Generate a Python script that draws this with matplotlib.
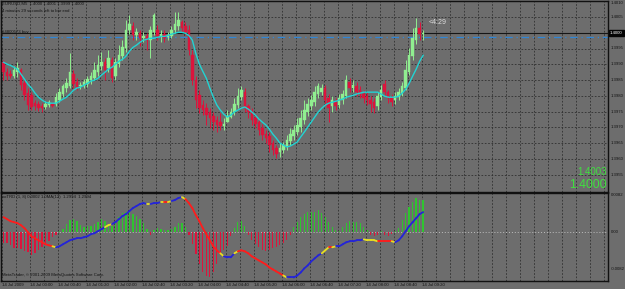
import matplotlib
matplotlib.use('Agg')
import matplotlib.pyplot as plt
from matplotlib.collections import LineCollection
import numpy as np

# ---------------- data (EURUSD M5, 14 Jul 2009) ----------------
opens = [1.39907, 1.39875, 1.39869, 1.39863, 1.39875, 1.39882, 1.39840, 1.39809, 1.39802, 1.39777,
         1.39774, 1.39768, 1.39765, 1.39771, 1.39774, 1.39774, 1.39787, 1.39806, 1.39825, 1.39831,
         1.39869, 1.39844, 1.39831, 1.39831, 1.39837, 1.39850, 1.39856, 1.39875, 1.39894, 1.39907,
         1.39888, 1.39913, 1.39863, 1.39901, 1.39926, 1.39951, 1.40008, 1.40021, 1.39992, 1.39999,
         1.39983, 1.39989, 1.39977, 1.40002, 1.40008, 1.39989, 1.39996, 1.39986, 1.39989, 1.40008,
         1.40021, 1.40034, 1.40021, 1.40008, 1.39929, 1.39850, 1.39802, 1.39771, 1.39761, 1.39749,
         1.39736, 1.39723, 1.39717, 1.39704, 1.39717, 1.39733, 1.39749, 1.39771, 1.39796, 1.39812,
         1.39768, 1.39749, 1.39730, 1.39717, 1.39698, 1.39679, 1.39673, 1.39651, 1.39635, 1.39622,
         1.39628, 1.39641, 1.39657, 1.39673, 1.39685, 1.39701, 1.39723, 1.39749, 1.39768, 1.39780,
         1.39806, 1.39812, 1.39825, 1.39793, 1.39768, 1.39780, 1.39771, 1.39787, 1.39799, 1.39844,
         1.39825, 1.39831, 1.39818, 1.39806, 1.39799, 1.39787, 1.39780, 1.39768, 1.39796, 1.39837,
         1.39812, 1.39793, 1.39787, 1.39796, 1.39809, 1.39825, 1.39875, 1.39926, 1.39977, 1.40015,
         1.39996]
highs = [1.39913, 1.39888, 1.39882, 1.39894, 1.39907, 1.39888, 1.39850, 1.39825, 1.39812, 1.39787,
         1.39783, 1.39777, 1.39783, 1.39787, 1.39780, 1.39809, 1.39825, 1.39837, 1.39856, 1.39935,
         1.39882, 1.39856, 1.39844, 1.39853, 1.39863, 1.39875, 1.39907, 1.39929, 1.39939, 1.39920,
         1.39945, 1.39923, 1.39920, 1.39961, 1.39977, 1.40040, 1.40056, 1.40034, 1.40015, 1.40008,
         1.40002, 1.39999, 1.40021, 1.40062, 1.40024, 1.40008, 1.40008, 1.40002, 1.40021, 1.40065,
         1.40068, 1.40040, 1.40034, 1.40024, 1.39945, 1.39863, 1.39818, 1.39787, 1.39777, 1.39761,
         1.39749, 1.39736, 1.39746, 1.39730, 1.39755, 1.39761, 1.39793, 1.39825, 1.39831, 1.39825,
         1.39774, 1.39761, 1.39742, 1.39730, 1.39711, 1.39692, 1.39685, 1.39660, 1.39644, 1.39651,
         1.39654, 1.39676, 1.39698, 1.39708, 1.39730, 1.39755, 1.39787, 1.39793, 1.39802, 1.39831,
         1.39840, 1.39837, 1.39834, 1.39806, 1.39799, 1.39793, 1.39806, 1.39818, 1.39866, 1.39856,
         1.39850, 1.39844, 1.39831, 1.39818, 1.39812, 1.39799, 1.39793, 1.39812, 1.39834, 1.39850,
         1.39818, 1.39806, 1.39812, 1.39825, 1.39844, 1.39913, 1.39951, 1.40015, 1.40046, 1.40034,
         1.40008]
lows = [1.39850, 1.39850, 1.39856, 1.39856, 1.39859, 1.39818, 1.39787, 1.39755, 1.39755, 1.39755,
        1.39752, 1.39749, 1.39758, 1.39765, 1.39765, 1.39768, 1.39780, 1.39796, 1.39812, 1.39825,
        1.39825, 1.39818, 1.39821, 1.39825, 1.39828, 1.39837, 1.39850, 1.39863, 1.39882, 1.39850,
        1.39875, 1.39844, 1.39850, 1.39891, 1.39913, 1.39939, 1.39996, 1.39977, 1.39977, 1.39958,
        1.39970, 1.39945, 1.39920, 1.39992, 1.39977, 1.39970, 1.39970, 1.39977, 1.39983, 1.39999,
        1.40008, 1.40002, 1.39992, 1.39929, 1.39834, 1.39761, 1.39746, 1.39739, 1.39708, 1.39698,
        1.39692, 1.39685, 1.39692, 1.39692, 1.39717, 1.39730, 1.39739, 1.39761, 1.39787, 1.39749,
        1.39730, 1.39708, 1.39698, 1.39676, 1.39660, 1.39651, 1.39622, 1.39613, 1.39603, 1.39606,
        1.39619, 1.39628, 1.39644, 1.39660, 1.39676, 1.39685, 1.39711, 1.39736, 1.39755, 1.39768,
        1.39793, 1.39802, 1.39771, 1.39717, 1.39749, 1.39755, 1.39761, 1.39774, 1.39793, 1.39812,
        1.39812, 1.39799, 1.39793, 1.39777, 1.39771, 1.39749, 1.39746, 1.39755, 1.39787, 1.39802,
        1.39777, 1.39768, 1.39774, 1.39787, 1.39799, 1.39818, 1.39866, 1.39913, 1.39964, 1.39977,
        1.39977]
closes = [1.39875, 1.39863, 1.39863, 1.39882, 1.39888, 1.39834, 1.39802, 1.39771, 1.39765, 1.39768,
          1.39761, 1.39761, 1.39774, 1.39780, 1.39768, 1.39796, 1.39812, 1.39831, 1.39840, 1.39875,
          1.39837, 1.39828, 1.39834, 1.39844, 1.39853, 1.39863, 1.39882, 1.39897, 1.39907, 1.39882,
          1.39920, 1.39856, 1.39907, 1.39929, 1.39954, 1.40008, 1.40027, 1.39992, 1.40002, 1.39983,
          1.39989, 1.39977, 1.40008, 1.40056, 1.39989, 1.39996, 1.39983, 1.39992, 1.40008, 1.40027,
          1.40040, 1.40015, 1.40002, 1.39945, 1.39850, 1.39787, 1.39761, 1.39755, 1.39739, 1.39730,
          1.39717, 1.39708, 1.39704, 1.39711, 1.39736, 1.39749, 1.39774, 1.39799, 1.39818, 1.39761,
          1.39749, 1.39723, 1.39711, 1.39692, 1.39676, 1.39666, 1.39644, 1.39628, 1.39616, 1.39635,
          1.39644, 1.39660, 1.39679, 1.39692, 1.39708, 1.39730, 1.39755, 1.39774, 1.39787, 1.39812,
          1.39831, 1.39825, 1.39787, 1.39761, 1.39787, 1.39768, 1.39793, 1.39806, 1.39850, 1.39825,
          1.39834, 1.39812, 1.39806, 1.39793, 1.39787, 1.39774, 1.39761, 1.39799, 1.39818, 1.39812,
          1.39793, 1.39780, 1.39799, 1.39812, 1.39831, 1.39882, 1.39929, 1.39983, 1.40015, 1.39996,
          1.40000]
ma = [1.39907, 1.39901, 1.39897, 1.39891, 1.39885, 1.39869, 1.39853, 1.39837, 1.39825, 1.39809,
      1.39796, 1.39787, 1.39780, 1.39777, 1.39777, 1.39777, 1.39783, 1.39790, 1.39796, 1.39806,
      1.39818, 1.39825, 1.39828, 1.39834, 1.39840, 1.39847, 1.39850, 1.39856, 1.39866, 1.39875,
      1.39885, 1.39891, 1.39901, 1.39910, 1.39916, 1.39926, 1.39942, 1.39954, 1.39961, 1.39970,
      1.39977, 1.39980, 1.39983, 1.39983, 1.39986, 1.39989, 1.39989, 1.39992, 1.39996, 1.39999,
      1.40002, 1.40002, 1.39999, 1.39992, 1.39977, 1.39935, 1.39901, 1.39878, 1.39856, 1.39825,
      1.39796, 1.39771, 1.39755, 1.39742, 1.39733, 1.39739, 1.39749, 1.39755, 1.39761, 1.39765,
      1.39758, 1.39749, 1.39739, 1.39727, 1.39717, 1.39708, 1.39695, 1.39679, 1.39666, 1.39651,
      1.39644, 1.39638, 1.39641, 1.39647, 1.39654, 1.39670, 1.39685, 1.39701, 1.39717, 1.39733,
      1.39749, 1.39761, 1.39771, 1.39777, 1.39780, 1.39783, 1.39787, 1.39790, 1.39796, 1.39799,
      1.39802, 1.39806, 1.39809, 1.39812, 1.39812, 1.39812, 1.39812, 1.39812, 1.39806, 1.39799,
      1.39796, 1.39796, 1.39796, 1.39799, 1.39809, 1.39821, 1.39840, 1.39863, 1.39885, 1.39910,
      1.39929]
hist = [-0.00244, -0.00244, -0.00289, -0.00355, -0.00355, -0.00377, -0.00422, -0.00444, -0.00511, -0.00466,
        -0.00400, -0.00333, -0.00266, -0.00200, -0.00111, -0.00067, 0.00022, 0.00067, 0.00178, 0.00266,
        0.00289, 0.00244, 0.00155, 0.00111, 0.00133, 0.00133, 0.00178, 0.00222, 0.00289, 0.00244,
        0.00178, 0.00133, 0.00222, 0.00333, 0.00422, 0.00444, 0.00444, 0.00400, 0.00355, 0.00289,
        0.00200, 0.00067, -0.00067, 0.00044, 0.00089, 0.00067, 0.00044, 0.00044, 0.00067, 0.00111,
        0.00200, 0.00200, 0.00111, -0.00067, -0.00266, -0.00488, -0.00710, -0.00888, -0.00977, -0.00999,
        -0.00888, -0.00710, -0.00488, -0.00400, -0.00311, -0.00089, 0.00089, 0.00222, 0.00244, 0.00133,
        -0.00067, -0.00178, -0.00266, -0.00333, -0.00400, -0.00422, -0.00400, -0.00355, -0.00333, -0.00289,
        -0.00244, -0.00178, -0.00067, 0.00111, 0.00222, 0.00333, 0.00400, 0.00444, 0.00444, 0.00444,
        0.00488, 0.00422, 0.00333, 0.00222, 0.00111, 0.00044, 0.00022, 0.00111, 0.00200, 0.00244,
        0.00222, 0.00222, 0.00200, 0.00111, 0.00044, -0.00067, -0.00089, -0.00067, 0.00022, -0.00067,
        -0.00089, -0.00044, 0.00022, 0.00089, 0.00266, 0.00422, 0.00555, 0.00666, 0.00755, 0.00710,
        0.00710]
signal = [0.00333, 0.00289, 0.00244, 0.00222, 0.00200, 0.00155, 0.00089, 0.00000, -0.00089, -0.00133,
          -0.00178, -0.00222, -0.00266, -0.00289, -0.00311, -0.00333, -0.00311, -0.00266, -0.00222, -0.00178,
          -0.00155, -0.00133, -0.00133, -0.00111, -0.00089, -0.00044, -0.00022, 0.00022, 0.00067, 0.00111,
          0.00155, 0.00178, 0.00222, 0.00289, 0.00355, 0.00400, 0.00466, 0.00533, 0.00577, 0.00622,
          0.00644, 0.00622, 0.00622, 0.00644, 0.00644, 0.00666, 0.00666, 0.00666, 0.00688, 0.00710,
          0.00755, 0.00777, 0.00733, 0.00644, 0.00533, 0.00377, 0.00244, 0.00089, -0.00044, -0.00178,
          -0.00311, -0.00400, -0.00466, -0.00533, -0.00555, -0.00555, -0.00466, -0.00422, -0.00400, -0.00422,
          -0.00466, -0.00533, -0.00577, -0.00622, -0.00666, -0.00710, -0.00777, -0.00821, -0.00866, -0.00910,
          -0.00955, -0.00999, -0.00999, -0.00999, -0.00955, -0.00888, -0.00799, -0.00733, -0.00644, -0.00577,
          -0.00511, -0.00466, -0.00400, -0.00333, -0.00333, -0.00311, -0.00311, -0.00266, -0.00222, -0.00200,
          -0.00200, -0.00178, -0.00178, -0.00155, -0.00178, -0.00178, -0.00178, -0.00200, -0.00200, -0.00200,
          -0.00200, -0.00200, -0.00222, -0.00178, -0.00089, 0.00022, 0.00133, 0.00222, 0.00311, 0.00400,
          0.00444]
signal_state = ("rrrrrrrrrrrrrrr" + "y" + "bbbbbbbbbbbbbb" + "yy" + "bbbbbbbbbb" + "y" + "bbb" + "y"
                + "r" + "y" + "bbb" + "y" + "rrrrrrrrrr" + "y" + "bbb" + "y" + "rrrrrrrrrrrrr" + "y"
                + "bbbbbbbbbb" + "yy" + "r" + "y" + "bbbbbbbb" + "yyyy" + "rrrr" + "y" + "bbbbbbbb")
price_levels = [1.4010, 1.4005, 1.4000, 1.3995, 1.3990, 1.3985, 1.3980,
                1.3975, 1.3970, 1.3965, 1.3960, 1.3955]
time_labels = ["14 Jul 2009", "14 Jul 00:00", "14 Jul 00:40", "14 Jul 01:20", "14 Jul 02:00",
               "14 Jul 02:40", "14 Jul 03:20", "14 Jul 04:00", "14 Jul 04:40", "14 Jul 05:20",
               "14 Jul 06:00", "14 Jul 06:40", "14 Jul 07:20", "14 Jul 08:00", "14 Jul 08:40",
               "14 Jul 09:20"]
bid_price = 1.4000
order_price = 1.39988
ind_levels = [0.0082, 0.0, -0.0082]
ind_level_labels = ["0.0082", "0.00", "-0.0082"]

# ---------------- figure ----------------
W, H = 625, 289
BG = '#6d6d6d'
GRID = '#2f2f2f'
TXT = '#121212'
FONT = 'Liberation Sans'
fig = plt.figure(figsize=(W / 100, H / 100), dpi=100)
fig.patch.set_facecolor(BG)


def rect(x0, y0, x1, y1):
    return [x0 / W, 1 - y1 / H, (x1 - x0) / W, (y1 - y0) / H]


def ftext(xp, yp, s, **kw):
    kw.setdefault('va', 'center')
    kw.setdefault('color', TXT)
    kw.setdefault('family', FONT)
    fig.text(xp / W, 1 - yp / H, s, **kw)


ax = fig.add_axes(rect(0.5, 0.5, 608, 192))
ax2 = fig.add_axes(rect(0.5, 193, 608, 280.5))

n = len(closes)
x = np.arange(n)
XMIN, XMAX = -3 / 3.5, 605 / 3.5
grid_x = np.arange(0, 44) * 4 - 0.29

for a in (ax, ax2):
    a.set_facecolor(BG)
    a.set_xlim(XMIN, XMAX)
    a.set_xticks([])
    a.set_yticks([])
    for sp in a.spines.values():
        sp.set_color('#111111')
        sp.set_linewidth(1.0)
    for gx in grid_x:
        a.axvline(gx, color=GRID, lw=0.6, ls=(0, (2, 2)), zorder=0)

# ---- main price panel ----
ax.set_ylim(1.39495, 1.40103)
for p in price_levels:
    ax.axhline(p, color=GRID, lw=0.6, ls=(0, (2, 2)), zorder=0)

o = np.array(opens); h = np.array(highs); l = np.array(lows); c = np.array(closes)
bull = c >= o
col = np.where(bull, '#90ee90', '#dc143c')
ax.vlines(x, l, h, colors=col, lw=0.7, zorder=2)
body_lo = np.minimum(o, c)
body_h = np.maximum(np.abs(c - o), 0.00002)
ax.bar(x, body_h, bottom=body_lo, width=0.72, color=col, edgecolor=col, lw=0.3, zorder=3)
ax.plot(x, ma, color='#22d3d3', lw=1.0, zorder=4)

ax.axhline(bid_price, color='#161616', lw=0.8, zorder=1)
ax.axhline(order_price, color='#2f86d6', lw=0.9, ls=(0, (6, 3, 1, 3)), zorder=1)

# ---- indicator panel ----
ax2.set_ylim(-0.01066, 0.00866)
ax2.axhline(0, color='#bdbdbd', lw=0.7, ls=(0, (1, 2)), zorder=1)
hv = np.array(hist)
hcol = np.where(hv >= 0, '#2fc42f', '#dc143c')
ax2.bar(x, hv, width=0.38, color=hcol, lw=0, zorder=2)
sig = np.array(signal)
pts = np.column_stack([x, sig])
segs = np.stack([pts[:-1], pts[1:]], axis=1)
cmap = {'r': '#ff1c1c', 'b': '#2424d8', 'y': '#e8e020'}
seg_cols = [cmap[s] for s in signal_state[1:]]
ax2.add_collection(LineCollection(segs, colors=seg_cols, linewidths=1.3, zorder=3, capstyle='round'))

# ---- texts ----
fs = 3.1
ftext(2, 4, "EURUSD,M5  1.4000 1.4001 1.3999 1.4000", fontsize=fs)
ftext(2, 11, "4 minutes 29 seconds left to bar end", fontsize=fs)
ftext(2, 32, "#4800573 buy", fontsize=fs)
ftext(429, 22, "<4:29", fontsize=5, color='#dcdcdc')

for p in price_levels:
    yp = 1 + (1.4010 - p) / 0.0005 * 15.8
    if abs(p - bid_price) < 1e-9:
        continue
    ftext(611, max(yp, 3), f"{p:.4f}", fontsize=fs)
ftext(610, 33, f"{bid_price:.4f}", fontsize=fs, color='white',
      bbox=dict(boxstyle='square,pad=0.25', fc='#050505', ec='#050505'))

ftext(607, 172, "1.4003", fontsize=7, color='#3fe03f', ha='right')
ftext(607, 185, "1.4000", fontsize=8.8, color='#3fe03f', ha='right')

ftext(2, 197, "xoTRD (1, 8) 0.0002 1.0MA(12)  1.2994  1.2994", fontsize=fs)
for v, s in zip(ind_levels, ind_level_labels):
    yp = 232 - v / 0.000222
    yp = min(max(yp, 195), 278)
    ftext(611, yp, s, fontsize=fs)
ftext(2, 275, "MetaTrader, \u00a9 2001-2009 MetaQuotes Software Corp.", fontsize=fs)

for k, s in enumerate(time_labels):
    ftext(2 + 28 * k, 284.5, s, fontsize=fs)

fig.savefig('out.png', dpi=100, facecolor=BG)
